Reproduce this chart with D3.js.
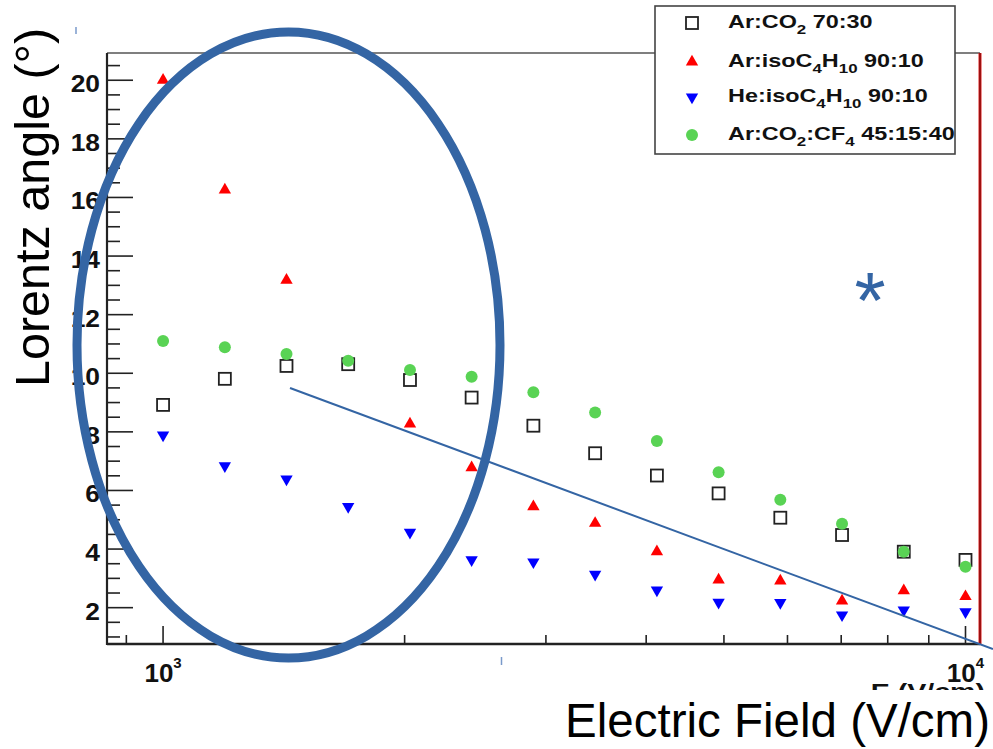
<!DOCTYPE html>
<html>
<head>
<meta charset="utf-8">
<script src="https://cdn.jsdelivr.net/npm/d3@7"></script>
<style>
  body { margin: 0; background: #fff; }
  svg { display: block; }
</style>
</head>
<body>
<div id="vis"></div>
<script>
const WIDTH = 993;
const HEIGHT = 749;
const FRAME_BOX = {left : 107, right : 980, top : 53, bottom : 644};

// electric field (V/cm) of each measurement
const FIELDS = [1000, 1194, 1425, 1701, 2031, 2424, 2894, 3455, 4125, 4924, 5878, 7017, 8377, 10000];

// Lorentz angle (deg) per gas mixture
const AR_CO2 = [8.92, 9.81, 10.25, 10.31, 9.77, 9.17, 8.21, 7.27, 6.51, 5.90, 5.07, 4.48, 3.91, 3.63];
const AR_ISO = [20.0, 16.26, 13.18, null, 8.27, 6.78, 5.45, 4.88, 3.91, 2.95, 2.91, 2.23, 2.58, 2.38];
const HE_ISO = [7.89, 6.84, 6.39, 5.45, 4.57, 3.63, 3.56, 3.14, 2.60, 2.18, 2.17, 1.75, 1.92, 1.86];
const AR_CO2_CF4 = [11.10, 10.89, 10.66, 10.43, 10.11, 9.88, 9.35, 8.66, 7.69, 6.62, 5.68, 4.86, 3.91, 3.40];

const Y_MAJOR = [2, 4, 6, 8, 10, 12, 14, 16, 18, 20];
const X_MAJOR = [1000, 10000];
const X_MINOR = [900, 2000, 3000, 4000, 5000, 6000, 7000, 8000, 9000];
const X_LABELS = ["3", "4"];

// legend label pieces: [text, isSubscript]
const LEGEND = [
  [["Ar:CO", 0], ["2", 1], [" 70:30", 0]],
  [["Ar:isoC", 0], ["4", 1], ["H", 0], ["10", 1], [" 90:10", 0]],
  [["He:isoC", 0], ["4", 1], ["H", 0], ["10", 1], [" 90:10", 0]],
  [["Ar:CO", 0], ["2", 1], [":CF", 0], ["4", 1], [" 45:15:40", 0]]
];

const ANNOT = "#3465a4";
const ROOT_FONT = "'Liberation Sans', Arial, sans-serif";

const svg = d3.select("#vis")
  .append("svg")
    .attr("width", WIDTH)
    .attr("height", HEIGHT);

svg.append("rect").attr("width", WIDTH).attr("height", HEIGHT).attr("fill", "#fff");

const X_SCALE = d3.scaleLog()
  .domain([851.4, 10425])
  .range([FRAME_BOX.left, FRAME_BOX.right]);

const Y_SCALE = d3.scaleLinear()
  .domain([0.76, 20.93])
  .range([FRAME_BOX.bottom, FRAME_BOX.top]);

// ---- ROOT frame ----
const plot = svg.append("g");

plot.append("line")
  .attr("x1", FRAME_BOX.left).attr("x2", FRAME_BOX.right)
  .attr("y1", FRAME_BOX.top).attr("y2", FRAME_BOX.top)
  .attr("stroke", "#555").attr("stroke-width", 1.5);

// y ticks
const yMinor = d3.range(1, 21, 0.5).filter(v => !Y_MAJOR.includes(v));
plot.selectAll(".ymin").data(yMinor).enter().append("line")
  .attr("x1", FRAME_BOX.left).attr("x2", FRAME_BOX.left + 13)
  .attr("y1", d => Y_SCALE(d)).attr("y2", d => Y_SCALE(d))
  .attr("stroke", "#222").attr("stroke-width", 1.6);
plot.selectAll(".ymaj").data(Y_MAJOR).enter().append("line")
  .attr("x1", FRAME_BOX.left).attr("x2", FRAME_BOX.left + 26)
  .attr("y1", d => Y_SCALE(d)).attr("y2", d => Y_SCALE(d))
  .attr("stroke", "#222").attr("stroke-width", 1.6);
plot.selectAll(".ylab").data(Y_MAJOR).enter().append("text")
  .attr("transform", d => `translate(100,${Y_SCALE(d) + 12}) scale(1.1,1)`)
  .attr("text-anchor", "end")
  .attr("font-family", ROOT_FONT).attr("font-weight", "bold").attr("font-size", 24)
  .attr("fill", "#111")
  .text(d => d);

// x ticks
plot.selectAll(".xmin").data(X_MINOR).enter().append("line")
  .attr("x1", d => X_SCALE(d)).attr("x2", d => X_SCALE(d))
  .attr("y1", FRAME_BOX.bottom).attr("y2", FRAME_BOX.bottom - 9)
  .attr("stroke", "#222").attr("stroke-width", 1.6);
plot.selectAll(".xmaj").data(X_MAJOR).enter().append("line")
  .attr("x1", d => X_SCALE(d)).attr("x2", d => X_SCALE(d))
  .attr("y1", FRAME_BOX.bottom).attr("y2", FRAME_BOX.bottom - 18)
  .attr("stroke", "#222").attr("stroke-width", 1.6);
const xl = plot.selectAll(".xlab").data(X_MAJOR).enter().append("text")
  .attr("x", d => X_SCALE(d)).attr("y", 682)
  .attr("text-anchor", "middle")
  .attr("font-family", ROOT_FONT).attr("font-weight", "bold").attr("font-size", 26)
  .attr("fill", "#111");
xl.append("tspan").text("10");
xl.append("tspan").attr("font-size", 15).attr("dy", -14).text((d, i) => X_LABELS[i]);

// axes lines
plot.append("line")
  .attr("x1", FRAME_BOX.left).attr("x2", FRAME_BOX.left)
  .attr("y1", FRAME_BOX.top).attr("y2", FRAME_BOX.bottom + 1)
  .attr("stroke", "#222").attr("stroke-width", 2.2);
plot.append("line")
  .attr("x1", FRAME_BOX.left).attr("x2", FRAME_BOX.right)
  .attr("y1", FRAME_BOX.bottom).attr("y2", FRAME_BOX.bottom)
  .attr("stroke", "#222").attr("stroke-width", 2.6);

// right border (red)
plot.append("line")
  .attr("x1", FRAME_BOX.right).attr("x2", FRAME_BOX.right)
  .attr("y1", FRAME_BOX.top).attr("y2", FRAME_BOX.bottom)
  .attr("stroke", "#e02020").attr("stroke-width", 3);
plot.append("line")
  .attr("x1", FRAME_BOX.right).attr("x2", FRAME_BOX.right)
  .attr("y1", FRAME_BOX.top).attr("y2", FRAME_BOX.bottom)
  .attr("stroke", "#5a0000").attr("stroke-width", 1);

// ---- markers ----
const tri = d3.symbol().type(d3.symbolTriangle).size(66);
function squares(g, pts) {
  g.selectAll(null).data(pts).enter().append("rect")
    .attr("x", d => d[0] - 6).attr("y", d => d[1] - 6)
    .attr("width", 12).attr("height", 12)
    .attr("fill", "none").attr("stroke", "#222").attr("stroke-width", 1.8);
}
function triangles(g, pts, color, down) {
  g.selectAll(null).data(pts).enter().append("path")
    .attr("d", tri)
    .attr("transform", d => `translate(${d[0]},${d[1]})` + (down ? " rotate(180)" : ""))
    .attr("fill", color);
}
function dots(g, pts) {
  g.selectAll(null).data(pts).enter().append("circle")
    .attr("cx", d => d[0]).attr("cy", d => d[1]).attr("r", 6)
    .attr("fill", "#59d354");
}
function toPts(series) {
  return FIELDS.map((f, i) => [f, series[i]])
    .filter(d => d[1] != null)
    .map(d => [X_SCALE(d[0]), Y_SCALE(d[1])]);
}

const marks = svg.append("g");
squares(marks, toPts(AR_CO2));
triangles(marks, toPts(AR_ISO), "#ff0000", false);
triangles(marks, toPts(HE_ISO), "#0000ff", true);
dots(marks, toPts(AR_CO2_CF4));

// ---- legend ----
const leg = svg.append("g");
leg.append("rect")
  .attr("x", 655).attr("y", 6).attr("width", 300).attr("height", 148)
  .attr("fill", "#fff").attr("stroke", "#444").attr("stroke-width", 1.6);
const legY = [23, 62, 97, 135];
squares(leg, [[692, legY[0]]]);
triangles(leg, [[692, legY[1]]], "#ff0000", false);
triangles(leg, [[692, legY[2]]], "#0000ff", true);
dots(leg, [[692, legY[3]]]);

LEGEND.forEach((parts, i) => {
  const t = leg.append("text")
    .attr("transform", `translate(728,${legY[i] + 5}) scale(1.3,1)`)
    .attr("font-family", ROOT_FONT).attr("font-weight", "bold").attr("font-size", 18)
    .attr("fill", "#111");
  let sub = false;
  parts.forEach(p => {
    const s = t.append("tspan").text(p[0]);
    if (p[1] && !sub) { s.attr("dy", 6).attr("font-size", 13); sub = true; }
    else if (p[1]) { s.attr("font-size", 13); }
    else if (sub) { s.attr("dy", -6); sub = false; }
  });
});

// ROOT x title (mostly hidden by the slide label)
svg.append("text")
  .attr("transform", "translate(985,699) scale(1.3,1)")
  .attr("text-anchor", "end")
  .attr("font-family", ROOT_FONT).attr("font-weight", "bold").attr("font-size", 22)
  .attr("fill", "#111")
  .text("E (V/cm)");
svg.append("rect").attr("x", 540).attr("y", 690).attr("width", 453).attr("height", 59).attr("fill", "#fff");

// ---- slide annotations ----
const ann = svg.append("g");
ann.append("ellipse")
  .attr("cx", 288.5).attr("cy", 345).attr("rx", 211.5).attr("ry", 313)
  .attr("fill", "none").attr("stroke", ANNOT).attr("stroke-width", 9);
ann.append("line")
  .attr("x1", 290).attr("y1", 388).attr("x2", 993).attr("y2", 649)
  .attr("stroke", ANNOT).attr("stroke-width", 2);
ann.append("line").attr("x1", 76).attr("x2", 76).attr("y1", 27).attr("y2", 34)
  .attr("stroke", "#7a9acb").attr("stroke-width", 1.5);
ann.append("line").attr("x1", 501.5).attr("x2", 501.5).attr("y1", 657).attr("y2", 665)
  .attr("stroke", "#7a9acb").attr("stroke-width", 1.5);
ann.append("text")
  .attr("x", 870).attr("y", 328)
  .attr("text-anchor", "middle")
  .attr("font-family", ROOT_FONT).attr("font-size", 80)
  .attr("fill", ANNOT)
  .text("*");

svg.append("text")
  .attr("transform", "translate(49,387) rotate(-90)")
  .attr("font-family", ROOT_FONT).attr("font-size", 48.5)
  .attr("fill", "#000")
  .text("Lorentz angle (°)");
svg.append("text")
  .attr("x", 990).attr("y", 737)
  .attr("text-anchor", "end")
  .attr("font-family", ROOT_FONT).attr("font-size", 47.5)
  .attr("fill", "#000")
  .text("Electric Field (V/cm)");
</script>
</body>
</html>
